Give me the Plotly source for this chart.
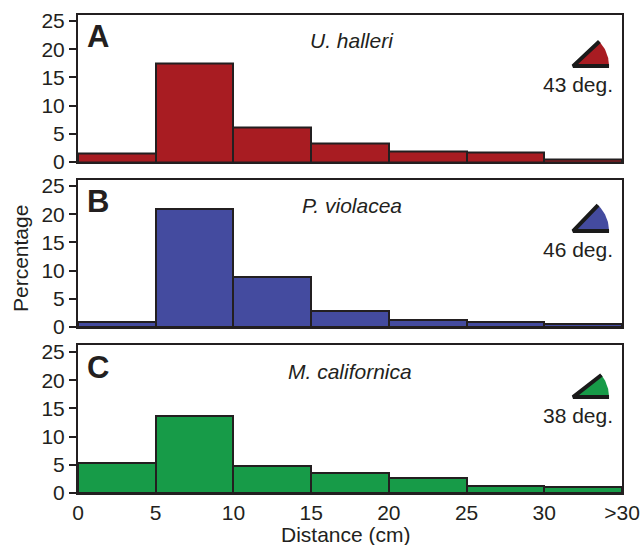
import math
import plotly.graph_objects as go

bin_centres = [2.5, 7.5, 12.5, 17.5, 22.5, 27.5, 32.5]
tick_vals = [0, 5, 10, 15, 20, 25, 30, 35]
tick_text = ["0", "5", "10", "15", "20", "25", "30", ">30"]
y_ticks = [0, 5, 10, 15, 20, 25]

halleri = [1.5, 17.5, 6.2, 3.3, 1.8, 1.6, 0.4]
violacea = [0.8, 21.0, 8.9, 2.8, 1.2, 0.8, 0.5]
californica = [5.4, 13.7, 4.8, 3.5, 2.7, 1.3, 1.0]

letters = ["A", "B", "C"]
species = ["U. halleri", "P. violacea", "M. californica"]
species_x = [17.6, 17.6, 17.5]
angles = [43, 46, 38]
colors = ["#a81c22", "#444b9f", "#179b48"]
series = [halleri, violacea, californica]

W, H = 642, 545
L, R = 78, 622
tops = [14.5, 180, 345]
bottoms = [162, 327, 493]
INK = "#231f20"
FONT = "Liberation Sans, Arial, sans-serif"
PX_X = 35 / (R - L)
PX_Y = 25 / 141

fig = go.Figure()
for i in range(3):
    n = "" if i == 0 else str(i + 1)
    fig.add_trace(go.Bar(x=bin_centres, y=series[i], width=5, xaxis="x" + n, yaxis="y" + n,
                         marker=dict(color=colors[i], line=dict(color=INK, width=2)), showlegend=False))
    ax, ay, r = 31.85, 17.0, 36
    steps = [angles[i] * k / 24 for k in range(25)]
    wx = [ax] + [ax + r * PX_X * math.cos(math.radians(a)) for a in steps] + [ax]
    wy = [ay] + [ay + r * PX_Y * math.sin(math.radians(a)) for a in steps] + [ay]
    fig.add_trace(go.Scatter(x=wx, y=wy, xaxis="x" + n, yaxis="y" + n, mode="lines", fill="toself",
                             fillcolor=colors[i], line=dict(width=0), showlegend=False, hoverinfo="skip"))
    fig.add_trace(go.Scatter(x=[wx[1], ax, wx[-2]], y=[wy[1], ay, wy[-2]], xaxis="x" + n, yaxis="y" + n,
                             mode="lines", line=dict(color="#1a1a1a", width=4), showlegend=False, hoverinfo="skip"))
    fig.update_layout({
        "xaxis" + n: dict(domain=[L / W, R / W], range=[0, 35], anchor="y" + n, tickvals=tick_vals,
                          ticktext=tick_text, showticklabels=i == 2, ticks="", showgrid=False, zeroline=False,
                          showline=True, mirror=True, linecolor=INK, linewidth=2, automargin=False,
                          tickfont=dict(size=21, color=INK)),
        "yaxis" + n: dict(domain=[1 - bottoms[i] / H, 1 - tops[i] / H], range=[0, (bottoms[i] - tops[i]) * PX_Y],
                          anchor="x" + n, tickvals=y_ticks, ticks="outside", ticklen=7, tickwidth=2, tickcolor=INK,
                          showgrid=False, zeroline=False, showline=True, mirror=True, linecolor=INK, linewidth=2,
                          automargin=False, tickfont=dict(size=21, color=INK)),
    })
    fig.add_annotation(x=0.47, y=22.2, xref="x" + n, yref="y" + n, text="<b>%s</b>" % letters[i],
                       showarrow=False, xanchor="left", yanchor="middle", font=dict(size=31, color=INK))
    fig.add_annotation(x=species_x[i], y=21.6, xref="x" + n, yref="y" + n, text="<i>%s</i>" % species[i],
                       showarrow=False, xanchor="center", yanchor="middle", font=dict(size=21, color=INK))
    fig.add_annotation(x=34.57, y=13.7, xref="x" + n, yref="y" + n, text="%d deg." % angles[i],
                       showarrow=False, xanchor="right", yanchor="middle", font=dict(size=21, color=INK))

fig.add_annotation(x=20 / W, y=1 - 259 / H, xref="paper", yref="paper", text="Percentage", textangle=-90,
                   showarrow=False, xanchor="center", yanchor="middle", font=dict(size=21, color=INK))
fig.add_annotation(x=346 / W, y=1 - 534 / H, xref="paper", yref="paper", text="Distance (cm)",
                   showarrow=False, xanchor="center", yanchor="middle", font=dict(size=21, color=INK))

fig.update_layout(template=None, width=W, height=H, margin=dict(l=0, r=0, t=0, b=0, pad=0), paper_bgcolor="white",
                  plot_bgcolor="white", barmode="overlay", bargap=0, font=dict(family=FONT, size=21, color=INK))
fig.write_html("out.html", config={"displayModeBar": False},
               post_script="document.body.style.margin='0';")
